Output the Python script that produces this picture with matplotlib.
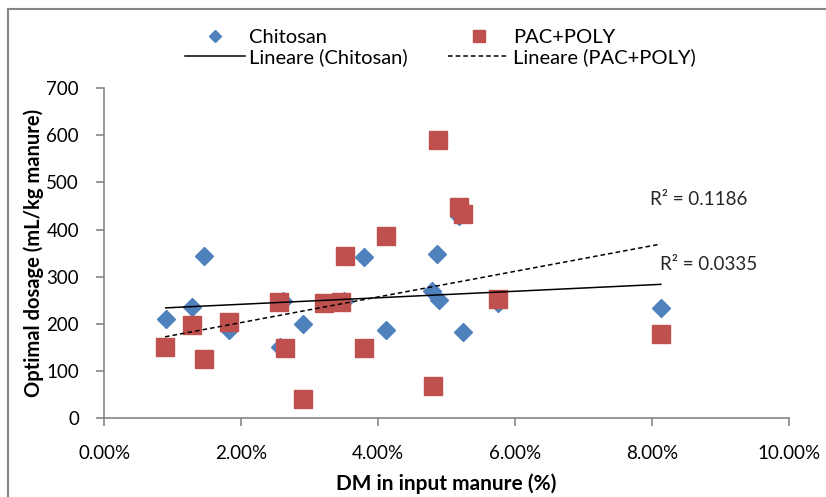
import numpy as np
import matplotlib
matplotlib.use("Agg")
import matplotlib.pyplot as plt
from matplotlib.patches import Rectangle
from matplotlib.ticker import PercentFormatter

plt.rcParams['font.family'] = ['Lato', 'DejaVu Sans']

# DM in input manure (%) and optimal dosage (mL/kg manure)
chitosan_dm = [0.90, 1.28, 1.46, 1.83, 2.57, 2.62, 2.90, 3.51, 3.79, 4.12,
               4.79, 4.86, 4.89, 5.18, 5.24, 5.76, 8.13]
chitosan_dose = [210, 236, 345, 188, 152, 248, 200, 248, 342, 188,
                 269, 349, 250, 429, 184, 245, 234]

pac_dm = [0.89, 1.28, 1.46, 1.83, 2.55, 2.64, 2.91, 3.21, 3.46, 3.52,
          3.80, 4.12, 4.80, 4.88, 5.18, 5.24, 5.76, 8.13]
pac_dose = [151, 198, 125, 205, 247, 149, 42, 245, 246, 345,
            149, 386, 69, 590, 448, 434, 252, 179]

r2_chitosan = "R² = 0.0335"
r2_pac = "R² = 0.1186"

blue = '#4F81BD'
red = '#C0504D'
grey = '#868686'

fig = plt.figure(figsize=(8.26, 4.97), dpi=100)
ax = fig.add_axes([0.126, 0.158, 0.829, 0.665])

# cadre du graphique
fig.patches.append(Rectangle((0.010, -0.02), 1.2, 1.002, transform=fig.transFigure,
                             fill=False, edgecolor=grey, linewidth=1.5))

ax.plot(chitosan_dm, chitosan_dose, linestyle='none', marker='D', markersize=9,
        color=blue, label='Chitosan', zorder=3)
ax.plot(pac_dm, pac_dose, linestyle='none', marker='s', markersize=13.5,
        color=red, label='PAC+POLY', zorder=4)

# droites de tendance linéaires
for xs, ys, ls, lab in [(chitosan_dm, chitosan_dose, '-', 'Lineare (Chitosan)'),
                        (pac_dm, pac_dose, (0, (3, 2)), 'Lineare (PAC+POLY)')]:
    k, b = np.polyfit(xs, ys, 1)
    xx = np.array([min(xs), max(xs)])
    ax.plot(xx, k * xx + b, color='black', linestyle=ls, linewidth=1.1,
            label=lab, zorder=5)

ax.text(7.97, 464, r2_pac, fontsize=13.5, va='center', color='#262626')
ax.text(8.12, 326, r2_chitosan, fontsize=13.5, va='center', color='#262626')

ax.set_xlim(0, 10)
ax.set_ylim(0, 700)
ax.set_xticks(np.arange(0, 10.1, 2))
ax.set_yticks(np.arange(0, 701, 100))
ax.xaxis.set_major_formatter(PercentFormatter(100, decimals=2))

for s in ['top', 'right']:
    ax.spines[s].set_visible(False)
for s in ['left', 'bottom']:
    ax.spines[s].set_color(grey)
    ax.spines[s].set_linewidth(1.2)
ax.tick_params(direction='out', length=6, width=1.2, color=grey,
               labelsize=13.5, labelcolor='black')
ax.tick_params(axis='x', pad=13)
ax.tick_params(axis='y', pad=12)

ax.set_xlabel('DM in input manure (%)', fontsize=15, fontweight='bold', labelpad=8)
ax.set_ylabel('Optimal dosage (mL/kg manure)', fontsize=14.5, fontweight='bold', labelpad=2)

h, l = ax.get_legend_handles_labels()
order = [0, 2, 1, 3]
fig.legend([h[i] for i in order], [l[i] for i in order], ncol=2,
           loc='upper center', bbox_to_anchor=(0.533, 0.978), frameon=False,
           fontsize=14.5, columnspacing=2.0, handlelength=3.0, handletextpad=0.2,
           labelspacing=0.1, markerscale=0.65)

fig.savefig('out.png', dpi=100)
